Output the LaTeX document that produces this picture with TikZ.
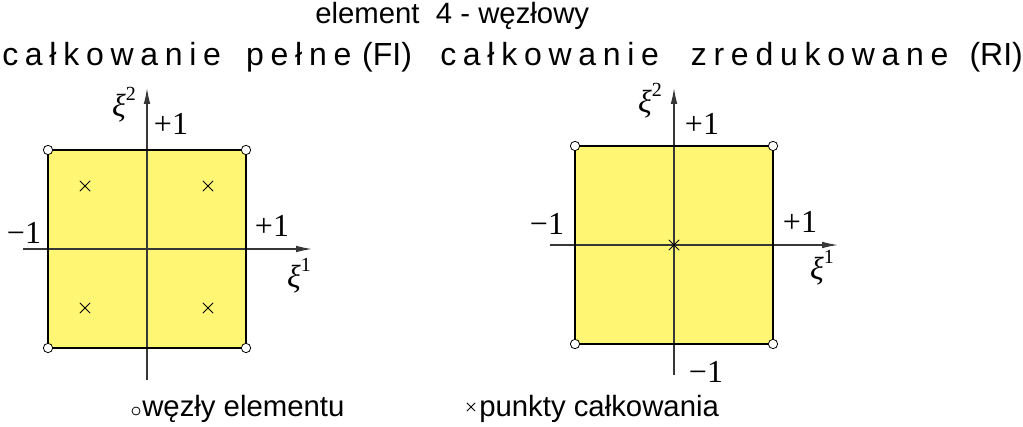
\documentclass[tikz,border=0pt]{standalone}
\usepackage{fontspec}
\setmainfont{Liberation Sans}
\newfontfamily\numfont{Liberation Serif}
\usetikzlibrary{arrows.meta}
\usetikzlibrary{shapes.misc}

\definecolor{elemfill}{RGB}{255,246,115}
\definecolor{axisgray}{RGB}{55,55,55}

\newcommand{\xilabel}[1]{{\numfont\itshape ξ}\raisebox{0.5em}{\numfont\fontsize{15}{15}\selectfont #1}}
\newcommand{\spaced}[2]{\makebox[#1][l]{\addfontfeatures{LetterSpace=21}#2}}

\tikzset{
  elem/.style={fill=elemfill, draw=black, line width=2.2pt},
  axis/.style={draw=axisgray, line width=0.9pt, -{Latex[length=12pt,width=5pt]}},
  nodept/.style={circle, draw=black, fill=white, line width=0.6pt, inner sep=0pt, minimum size=7pt},
  gausspt/.style={cross out, draw=black, line width=0.7pt, inner sep=0pt, minimum size=7pt},
  numlab/.style={font=\numfont\fontsize{24}{26}\selectfont, anchor=base, inner sep=0pt},
  textlab/.style={anchor=base west, inner sep=0pt},
  titlelab/.style={textlab, font=\fontsize{24}{28}\selectfont},
}

\begin{document}
\begin{tikzpicture}[x=0.75pt, y=-0.75pt, font=\fontsize{22}{26}\selectfont]
        \useasboundingbox (0,0) rectangle (1023,427);

        % Titles
        \node[textlab] (head) at (315,24) {element\ \ 4 - węzłowy};
        \node[titlelab] (titleFI) at (2,66) {\spaced{183pt}{całkowanie}\spaced{87pt}{pełne}(FI)};
        \node[titlelab] (titleRI) at (440,66) {\spaced{188pt}{całkowanie}\spaced{209pt}{zredukowane}(RI)};

        % First element: full integration
        \begin{scope}[shift={(147,249)}]
            \def\h{99}

            \fill[elemfill] (-\h,-\h) rectangle (\h,\h);

            % Axes
            \coordinate (L-x0) at (-124,0);
            \coordinate (L-x1) at (165,0);
            \coordinate (L-y0) at (0,131);
            \coordinate (L-y1) at (0,-161);
            \draw[axis] (L-x0) -- (L-x1);
            \draw[axis] (L-y0) -- (L-y1);

            \draw[elem, fill=none] (-\h,-\h) rectangle (\h,\h);

            % Nodes of the element
            \foreach \sx/\sy [count=\i] in {-1/-1, 1/-1, 1/1, -1/1} {
                \node[nodept] (L-n\i) at (\sx*\h, \sy*\h) {};
            }

            % Integration points
            \foreach \px/\py [count=\i] in {-62/-63, 61/-63, -62/59, 61/59} {
                \node[gausspt] (L-g\i) at (\px,\py) {};
            }

            % Labels
            \node[numlab] (L-m1) at (-123,-5) {−1};
            \node[numlab] (L-p1) at (125,-12) {+1};
            \node[numlab] (L-xi1) at (152,38) {\xilabel{1}};
            \node[numlab] (L-xi2) at (-23,-132) {\xilabel{2}};
            \node[numlab] (L-p2) at (24,-114) {+1};
        \end{scope}

        % Second element: reduced integration
        \begin{scope}[shift={(674,245)}]
            \def\h{99}

            \fill[elemfill] (-\h,-\h) rectangle (\h,\h);

            % Axes
            \coordinate (R-x0) at (-124,0);
            \coordinate (R-x1) at (164,0);
            \coordinate (R-y0) at (0,130);
            \coordinate (R-y1) at (0,-157);
            \draw[axis] (R-x0) -- (R-x1);
            \draw[axis] (R-y0) -- (R-y1);

            \draw[elem, fill=none] (-\h,-\h) rectangle (\h,\h);

            % Nodes of the element
            \foreach \sx/\sy [count=\i] in {-1/-1, 1/-1, 1/1, -1/1} {
                \node[nodept] (R-n\i) at (\sx*\h, \sy*\h) {};
            }

            % Integration point
            \node[gausspt] (R-g1) at (0,0) {};

            % Labels
            \node[numlab] (R-m1) at (-127,-10) {−1};
            \node[numlab] (R-p1) at (126,-12) {+1};
            \node[numlab] (R-xi1) at (148,35) {\xilabel{1}};
            \node[numlab] (R-xi2) at (-24,-132) {\xilabel{2}};
            \node[numlab] (R-p2) at (28,-110) {+1};
            \node[numlab] (R-m2) at (32,137) {−1};
        \end{scope}

        % Legend
        \node[nodept, minimum size=6pt] (leg-n) at (136,411) {};
        \node[textlab] (leg-ntext) at (142,416) {węzły elementu};
        \node[gausspt, minimum size=5.5pt] (leg-g) at (471,407) {};
        \node[textlab] (leg-gtext) at (479,416) {punkty całkowania};

    \end{tikzpicture}
\end{document}
